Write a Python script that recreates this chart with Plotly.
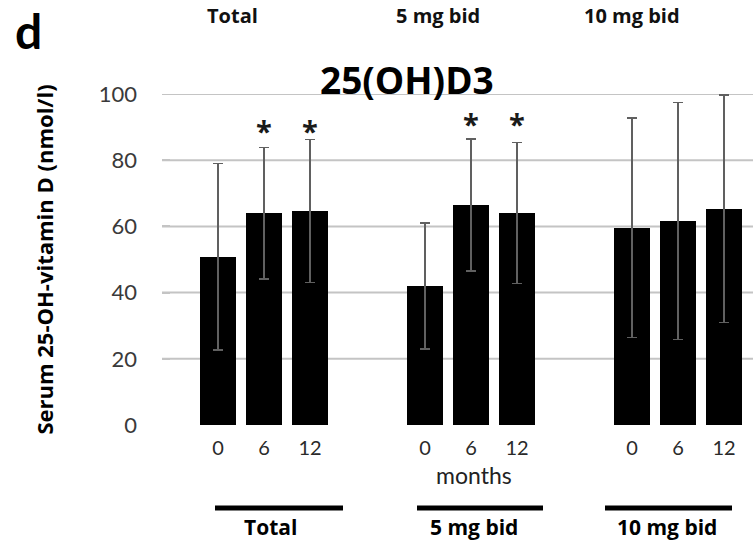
import plotly.graph_objects as go

# Serum 25(OH)D3 at 0, 6 and 12 months, per treatment group
groups = ["Total", "5 mg bid", "10 mg bid"]
months = ["0", "6", "12"]
mean_total = [50.8, 64.0, 64.7]
mean_5mg = [42.0, 66.5, 64.0]
mean_10mg = [59.6, 61.6, 65.3]
sd_total = [28.2, 19.9, 21.6]
sd_5mg = [19.0, 19.9, 21.3]
sd_10mg = [33.1, 35.8, 34.4]
signif_total = [False, True, True]
signif_5mg = [False, True, True]
signif_10mg = [False, False, False]
y_ticks = [0, 20, 40, 60, 80, 100]

means = [mean_total, mean_5mg, mean_10mg]
sds = [sd_total, sd_5mg, sd_10mg]
signif = [signif_total, signif_5mg, signif_10mg]

W, H = 753, 541
ML, MR, MT, MB = 162, 0, 94, 116
PW, PH = W - ML - MR, H - MT - MB
GROUP_STEP = 4.5


def px(x):
    return (x - ML) / PW


def py(y):
    return (H - MB - y) / PH


xs, ys, es, ticktext = [], [], [], []
for g, (m, s) in enumerate(zip(means, sds)):
    for i in range(len(months)):
        xs.append(g * GROUP_STEP + i)
        ys.append(m[i])
        es.append(s[i])
        ticktext.append(months[i])

fig = go.Figure()
fig.add_trace(go.Bar(
    x=xs, y=ys, width=0.78,
    marker=dict(color="black", line=dict(width=0)),
    error_y=dict(type="data", array=es, visible=True,
                 color="#606060", thickness=1.5, width=5),
    showlegend=False,
))

font = "Lato, 'Open Sans', sans-serif"
heavy = "'Open Sans', sans-serif"
shapes = []
for t in y_ticks[1:]:
    shapes.append(dict(type="line", xref="paper", yref="y", x0=0, x1=1,
                       y0=t, y1=t, line=dict(color="#c4c4c4", width=2),
                       layer="below"))

# group underlines below the month labels
underline_px = [(215, 343), (417, 543), (605, 732)]
for x0, x1 in underline_px:
    shapes.append(dict(type="line", xref="paper", yref="paper",
                       x0=px(x0), x1=px(x1), y0=py(508), y1=py(508),
                       line=dict(color="black", width=5)))


def label(x, y, text, size, color="black", xanchor="center", fam=font):
    return dict(x=px(x), y=py(y), xref="paper", yref="paper", text=text,
                showarrow=False, xanchor=xanchor, yanchor="middle",
                font=dict(family=fam, size=size, color=color))


annotations = []
# significance markers, one height per group
star_px = [123, 116, None]
for g, flags in enumerate(signif):
    for i, f in enumerate(flags):
        if f:
            annotations.append(dict(
                x=g * GROUP_STEP + i, xref="x", y=py(star_px[g] + 7),
                yref="paper", text="<b>*</b>", showarrow=False,
                xanchor="center", yanchor="middle",
                font=dict(family=heavy, size=29, color="#1a1a1a")))

annotations.append(label(407, 79, "<b>25(OH)D3</b>", 37, fam=heavy))
annotations.append(label(13, 31, "<b>d</b>", 48, xanchor="left"))
annotations.append(label(474, 475, "months", 23, color="#222"))

bottom_centers = [270, 474, 667]
top_centers = [232, 438, 632]
for name, cb, ct in zip(groups, bottom_centers, top_centers):
    annotations.append(label(cb, 527, f"<b>{name}</b>", 21, fam=heavy))
    annotations.append(label(ct, 15, f"<b>{name}</b>", 20, color="#111",
                             fam=heavy))

fig.update_layout(
    width=W, height=H,
    margin=dict(l=ML, r=MR, t=MT, b=MB, pad=0),
    paper_bgcolor="white", plot_bgcolor="white",
    bargap=0,
    shapes=shapes, annotations=annotations,
    xaxis=dict(range=[-1.217, 11.63], tickvals=xs, ticktext=ticktext,
               showgrid=False, zeroline=False, showline=False, ticks="",
               ticklabelstandoff=9,
               tickfont=dict(family=font, size=20, color="#2a2a2a")),
    yaxis=dict(range=[0, 100], tickvals=y_ticks, showgrid=False,
               zeroline=False, showline=False, ticks="inside", ticklen=8,
               tickcolor="#c4c4c4", tickwidth=2,
               ticklabelstandoff=24,
               tickfont=dict(family=font, size=22, color="#3a3a3a"),
               title=dict(text="<b>Serum 25-OH-vitamin D (nmol/l)</b>",
                          standoff=39,
                          font=dict(family=heavy, size=22, color="black"))),
)

fig.write_html("out.html")
